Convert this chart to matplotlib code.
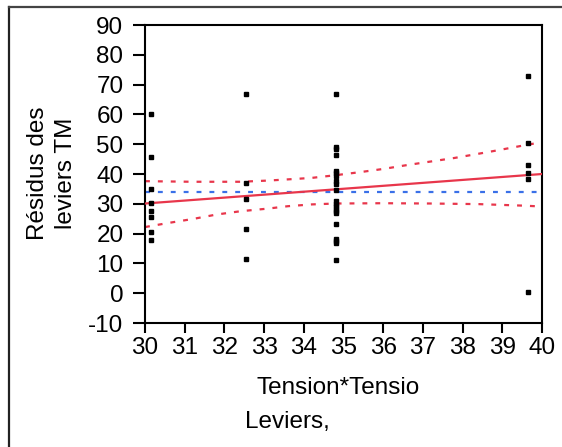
import numpy as np
import matplotlib.pyplot as plt
from matplotlib.lines import Line2D

plt.rcParams["font.family"] = ["Liberation Sans", "DejaVu Sans"]
plt.rcParams["axes.unicode_minus"] = False

# ------------------------------------------------------------
# Leverage residuals, grouped by the Tension*Tension leverage
# ------------------------------------------------------------

x_group_1 = 30.15
y_group_1 = [60.3, 45.7, 35.0, 30.3, 27.7, 25.6, 20.4, 17.8]

x_group_2 = 32.55
y_group_2 = [66.9, 37.0, 31.7, 21.6, 11.6]

x_group_3 = 34.8
y_group_3 = [66.9, 49.2, 48.4, 46.3, 41.1, 40.3, 39.5, 37.6, 36.8, 34.5,
             31.0, 30.1, 29.2, 28.4, 27.6, 26.8, 23.1, 18.3, 17.6, 17.0, 11.1]

x_group_4 = 39.65
y_group_4 = [73.0, 50.4, 43.0, 40.3, 38.4, 0.4]

# fitted leverage line and mean of the response
fit_x = [30.0, 40.0]
fit_y = [30.1, 40.0]
mean_y = 33.9

# confidence curves read along the x axis
upper_x = [30.0, 30.6, 31.2, 31.8, 32.4, 33.1, 33.6, 34.2, 34.8, 35.4,
           36.0, 36.6, 37.2, 37.8, 38.4, 38.9, 39.5, 40.0]
upper_y = [37.6, 37.5, 37.4, 37.4, 37.4, 37.8, 38.2, 38.7, 39.6, 40.6,
           41.7, 43.0, 44.2, 45.4, 46.8, 48.0, 49.5, 50.7]
lower_x = [30.0, 30.6, 31.2, 31.8, 32.4, 33.1, 33.6, 34.2, 34.8, 36.0,
           37.2, 38.4, 39.5, 40.0]
lower_y = [22.2, 23.6, 24.9, 26.4, 27.5, 28.4, 29.2, 29.8, 30.1, 30.2,
           30.1, 29.9, 29.4, 29.1]

X_TICKS = list(range(30, 41))
Y_TICKS = list(range(-10, 91, 10))

RED = "#e8364b"
BLUE = "#3a70e8"
FS = 17.5

# ------------------------------------------------------------
# FIGURE
# ------------------------------------------------------------

fig = plt.figure(figsize=(5.62, 4.47), dpi=100)
ax = fig.add_axes([0.258, 0.2774, 0.7064, 0.6666])

# outer frame (only the top and left edges fall inside the image)
fig.add_artist(Line2D([9 / 562, 9 / 562], [0, 1 - 7 / 447],
                      transform=fig.transFigure, color="#222222", lw=1.6))
fig.add_artist(Line2D([9 / 562, 1], [1 - 7 / 447, 1 - 7 / 447],
                      transform=fig.transFigure, color="#444444", lw=1.6))

ax.plot(upper_x, upper_y, color=RED, lw=1.6, ls=(0, (2.2, 3.6)), zorder=2)
ax.plot(lower_x, lower_y, color=RED, lw=1.6, ls=(0, (2.2, 3.6)), zorder=2)
ax.axhline(mean_y, color=BLUE, lw=1.6, ls=(0, (2.2, 3.6)), zorder=2)
ax.plot(fit_x, fit_y, color=RED, lw=1.6, zorder=3)

for gx, gy in [(x_group_1, y_group_1), (x_group_2, y_group_2),
               (x_group_3, y_group_3), (x_group_4, y_group_4)]:
    ax.plot([gx] * len(gy), gy, ls="none", marker="s", ms=3.2,
            color="black", zorder=4)

ax.set_xlim(30, 40)
ax.set_ylim(-10, 90)
ax.set_xticks(X_TICKS)
ax.set_yticks(Y_TICKS)

for side in ["left", "bottom", "top", "right"]:
    ax.spines[side].set_linewidth(1.5)

ax.tick_params(axis="y", direction="out", length=8.5, width=1.5,
               pad=7, labelsize=FS)
ax.tick_params(axis="x", direction="out", length=7, width=1.5,
               pad=3, labelsize=FS)

fig.text(52 / 562, 1 - 173 / 447, "Résidus des\nleviers TM", fontsize=FS,
         rotation=90, ha="center", va="center", linespacing=1.3)

fig.text(338 / 562, 1 - 388 / 447, "Tension*Tensio", fontsize=FS,
         ha="center", va="center")
fig.text(287 / 562, 1 - 422 / 447, "Leviers,", fontsize=FS,
         ha="center", va="center")

fig.savefig("out.png", dpi=100)
